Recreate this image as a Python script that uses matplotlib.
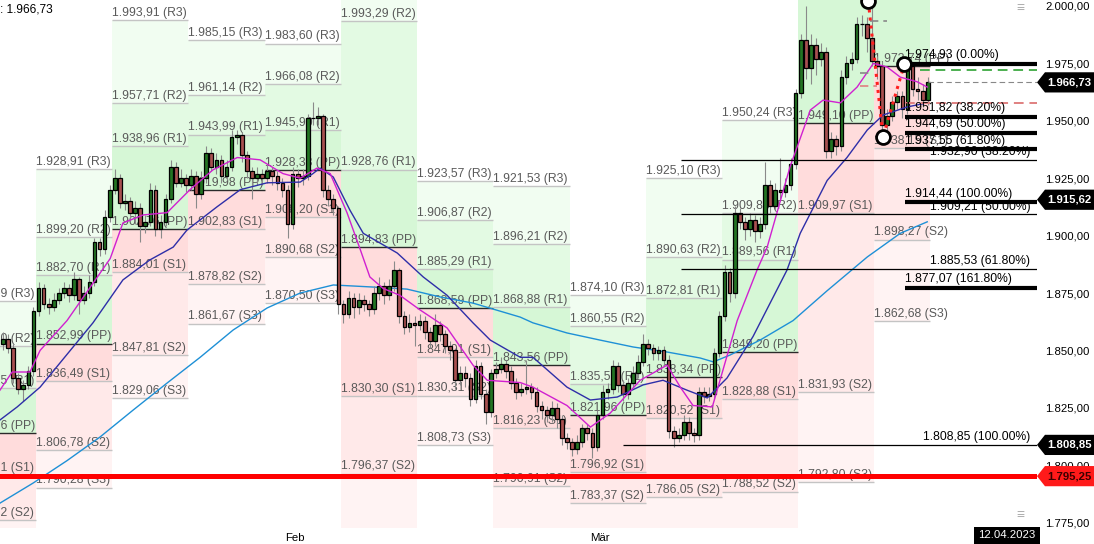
import matplotlib
matplotlib.use('Agg')
import matplotlib.pyplot as plt
import matplotlib.transforms as mtransforms
from matplotlib.patches import Polygon

plt.rcParams['font.family'] = ['Liberation Sans', 'DejaVu Sans']

# ---------------- data ----------------
first_open = 1853.0
closes = [
    1855, 1851, 1838, 1833, 1835, 1841, 1867, 1877, 1870, 1869,
    1872, 1875, 1877, 1874, 1881, 1872, 1875, 1880, 1897, 1894,
    1908, 1920, 1925, 1914, 1915, 1910, 1912, 1904, 1906, 1920,
    1903, 1906, 1916, 1930, 1923, 1925, 1922, 1926, 1918, 1925,
    1936, 1930, 1933, 1926, 1930, 1943, 1944, 1935, 1928, 1925,
    1927, 1925, 1928, 1926, 1923, 1920, 1905, 1927, 1925, 1926,
    1951, 1951, 1952, 1920, 1916, 1912, 1870, 1866, 1873, 1869,
    1872, 1870, 1868, 1875, 1878, 1874, 1878, 1885, 1865, 1860,
    1862, 1861, 1863, 1858, 1854, 1861, 1857, 1852, 1850, 1837,
    1840, 1838, 1829, 1843, 1831, 1823, 1840, 1842, 1844, 1841,
    1836, 1832, 1833, 1834, 1832, 1826, 1824, 1822, 1825, 1820,
    1812, 1810, 1807, 1810, 1816, 1814, 1808, 1822, 1832, 1833,
    1843, 1835, 1831, 1836, 1840, 1845, 1853, 1851, 1849, 1850,
    1846, 1815, 1812, 1813, 1819, 1814, 1813, 1832, 1830, 1831,
    1849, 1865, 1884, 1875, 1910, 1906, 1903, 1907, 1902, 1905,
    1922, 1913, 1920, 1919, 1922, 1931, 1962, 1985, 1973, 1983,
    1977, 1980, 1937, 1942, 1939, 1969, 1975, 1977, 1992, 1992,
    1986, 1976, 1974, 1948, 1952, 1958, 1961, 1955, 1974, 1964,
    1963, 1959, 1966.73]
highs = [
    1858, 1857, 1853, 1840, 1837, 1843, 1869, 1880, 1879, 1873,
    1875, 1877, 1880, 1879, 1884, 1882, 1878, 1883, 1899, 1899,
    1911, 1922, 1929, 1927, 1918, 1917, 1915, 1914, 1909, 1923,
    1922, 1909, 1918, 1933, 1932, 1929, 1927, 1929, 1928, 1928,
    1939, 1938, 1936, 1935, 1933, 1946, 1946, 1945, 1937, 1930,
    1930, 1929, 1931, 1930, 1928, 1925, 1922, 1930, 1929, 1929,
    1953, 1958, 1956, 1953, 1922, 1918, 1913, 1872, 1876, 1875,
    1875, 1874, 1872, 1878, 1882, 1880, 1881, 1889, 1886, 1867,
    1866, 1865, 1866, 1865, 1860, 1866, 1863, 1859, 1854, 1851,
    1843, 1843, 1840, 1846, 1845, 1833, 1842, 1845, 1847, 1846,
    1843, 1838, 1836, 1846, 1836, 1834, 1828, 1826, 1828, 1827,
    1822, 1814, 1812, 1813, 1818, 1818, 1816, 1824, 1835, 1836,
    1846, 1845, 1837, 1838, 1843, 1848, 1857, 1855, 1853, 1852,
    1852, 1848, 1817, 1816, 1822, 1821, 1816, 1834, 1834, 1834,
    1851, 1867, 1887, 1886, 1913, 1912, 1908, 1910, 1909, 1908,
    1932, 1924, 1923, 1934, 1925, 1934, 1964, 1988, 2000, 1988,
    1986, 1984, 1982, 1945, 1944, 1972, 1978, 1980, 1995, 1996,
    1995, 2002, 1978, 1976, 1955, 1961, 1963, 1963, 1976, 1975,
    1969, 1966, 1969]
lows = [
    1850, 1849, 1836, 1831, 1828, 1833, 1839, 1865, 1868, 1866,
    1867, 1870, 1873, 1871, 1872, 1866, 1870, 1873, 1878, 1891,
    1892, 1906, 1918, 1912, 1911, 1907, 1905, 1897, 1901, 1904,
    1900, 1899, 1904, 1914, 1921, 1921, 1919, 1920, 1912, 1916,
    1923, 1928, 1927, 1923, 1924, 1928, 1940, 1932, 1925, 1916,
    1922, 1922, 1923, 1922, 1920, 1917, 1899, 1903, 1921, 1922,
    1924, 1948, 1948, 1917, 1913, 1909, 1866, 1862, 1864, 1864,
    1866, 1867, 1865, 1866, 1872, 1870, 1872, 1876, 1862, 1857,
    1858, 1852, 1859, 1855, 1851, 1852, 1854, 1849, 1846, 1833,
    1835, 1834, 1826, 1827, 1829, 1818, 1821, 1838, 1840, 1838,
    1833, 1829, 1830, 1831, 1829, 1823, 1820, 1819, 1819, 1816,
    1809, 1807, 1804, 1805, 1808, 1811, 1803, 1806, 1820, 1829,
    1831, 1832, 1828, 1829, 1834, 1838, 1843, 1848, 1846, 1846,
    1843, 1812, 1808, 1810, 1811, 1811, 1810, 1811, 1827, 1828,
    1829, 1847, 1863, 1871, 1873, 1903, 1898, 1900, 1897, 1899,
    1903, 1910, 1911, 1916, 1917, 1920, 1929, 1960, 1968, 1966,
    1970, 1974, 1934, 1934, 1935, 1937, 1966, 1972, 1975, 1987,
    1980, 1974, 1968, 1945, 1944, 1950, 1955, 1951, 1953, 1961,
    1959, 1956, 1957]

# weekly pivot points: R3, R2, R1, PP, S1, S2, S3
week_starts = [-8.5, 6.5, 21.5, 36.5, 51.5, 66.5, 81.5, 96.5, 111.5, 126.5, 141.5, 156.5, 171.5]
last_week_end = 182.5
pivot_names = ['R3', 'R2', 'R1', 'PP', 'S1', 'S2', 'S3']
pivots = [
    [1871.39, 1851.80, 1833.55, 1813.96, 1795.71, 1776.12, 1757.87],
    [1928.91, 1899.20, 1882.70, 1852.99, 1836.49, 1806.78, 1790.28],
    [1993.91, 1957.71, 1938.96, 1902.76, 1884.01, 1847.81, 1829.06],
    [1985.15, 1961.14, 1943.99, 1919.98, 1902.83, 1878.82, 1861.67],
    [1983.60, 1966.08, 1945.90, 1928.38, 1908.20, 1890.68, 1870.50],
    [2027.22, 1993.29, 1928.76, 1894.83, 1830.30, 1796.37, 1731.84],
    [1923.57, 1906.87, 1885.29, 1868.59, 1847.01, 1830.31, 1808.73],
    [1921.53, 1896.21, 1868.88, 1843.56, 1816.23, 1790.91, 1763.58],
    [1874.10, 1860.55, 1835.51, 1821.96, 1796.92, 1783.37, 1758.33],
    [1925.10, 1890.63, 1872.81, 1838.34, 1820.52, 1786.05, 1768.23],
    [1950.24, 1909.88, 1889.56, 1849.20, 1828.88, 1788.52, 1768.20],
    [2144.31, 2066.27, 2027.14, 1949.10, 1909.97, 1831.93, 1792.80],
    [2089.09, 2049.21, 2013.62, 1973.74, 1938.15, 1898.27, 1862.68],
]

# moving averages (bar index, value)
ma_short_x = [-0.6, 1.8, 5.3, 7.3, 12.6, 21.1, 23.6, 27.6, 32.3, 36.8, 41.3, 46.1, 50.6, 55.1, 58.5, 61.8,
              64.4, 67.7, 70.3, 72.2, 74.8, 78.1, 82.1, 87.4, 92.5, 95.3, 101.8, 104.3, 111.0, 115.6, 119.5,
              125.4, 130.7, 133.3, 135.8, 139.6, 141.7, 144.5, 148.4, 150.4, 154.9, 158.9, 161.4, 164.8,
              168.1, 171.3, 174.0, 176.6, 179.9, 181.9]
ma_short_y = [1832.7, 1840.6, 1840.6, 1850, 1863, 1890, 1905.5, 1909, 1910, 1920, 1928.6, 1934, 1933, 1927,
              1925, 1929.4, 1927, 1910, 1894, 1882, 1877, 1874, 1867.6, 1859.8, 1843.6, 1837, 1836, 1834,
              1826, 1816.6, 1822.7, 1837, 1843.6, 1834, 1826, 1825.4, 1841.5, 1863, 1885, 1895, 1930,
              1954.7, 1959, 1957.8, 1964.7, 1975, 1973.4, 1969, 1967, 1964.7]
ma_mid_x = [-0.6, 2.8, 7.3, 17.7, 23.6, 27.0, 28.9, 33.5, 36.2, 42.1, 46.7, 52.0, 58.5, 61.0, 62.4, 65.0,
            68.3, 70.9, 77.6, 82.7, 87.4, 92.5, 95.9, 101.8, 104.3, 111.0, 115.6, 120.9, 126.0, 129.9,
            134.6, 138.6, 142.5, 147.6, 154.3, 156.9, 162.2, 166.1, 170.1, 173.2, 177.9, 181.9]
ma_mid_y = [1819.7, 1825.4, 1834, 1862, 1880.7, 1886.3, 1889.4, 1895, 1902.4, 1912.5, 1920, 1923, 1923.3,
            1927, 1929.4, 1925.5, 1911, 1901, 1892.4, 1882, 1874, 1862, 1854.5, 1847, 1847, 1834, 1828.4,
            1829.7, 1835, 1837, 1832.7, 1829.3, 1838, 1856, 1885, 1901, 1924, 1934, 1946, 1952.5, 1956,
            1957.8]
ma_long_x = [-0.6, 5.9, 12.6, 19.1, 25.6, 32.3, 38.8, 45.3, 52.0, 58.5, 65.0, 72.8, 79.5, 86.0, 92.5,
             101.8, 104.3, 111.0, 117.5, 124.0, 130.7, 137.2, 139.8, 143.1, 149.0, 155.5, 162.2, 170.1,
             176.6, 181.9]
ma_long_y = [1783.5, 1792.2, 1802, 1812.3, 1824, 1835.8, 1847, 1858.9, 1868.5, 1875, 1878.5, 1877.6,
             1876.7, 1873.3, 1870.6, 1864.5, 1862, 1857.6, 1854.5, 1851.5, 1849.3, 1846.7, 1845, 1848,
             1854.5, 1863, 1876, 1890.7, 1901, 1906]

# Fibonacci levels
fib_thick_levels = [1974.93, 1951.82, 1944.69, 1937.55, 1914.44, 1877.07]
fib_thick_pcts = ['0.00%', '38.20%', '50.00%', '61.80%', '100.00%', '161.80%']
fib_thick_start = 177.6
fib_thin_levels = [1932.90, 1909.21, 1885.53, 1808.85]
fib_thin_pcts = ['38.20%', '50.00%', '61.80%', '100.00%']
fib_thin_starts = [133.5, 133.5, 133.5, 122.0]

# swing points (zigzag)
swing_x = [170.3, 173.2, 177.4]
swing_y = [2002.0, 1943.0, 1974.7]

support_level = 1795.25
last_price = 1966.73
tag_values = [1966.73, 1915.62, 1808.85, 1795.25]
tag_colors = ['black', 'black', 'black', '#ff1a1a']
tag_text_colors = ['white', 'white', 'white', '#3a0000']

dash_levels = [1972.1, 1966.73, 1957.8]
dash_starts = [180.5, 182.0, 177.6]
dash_colors = ['#4caf50', '#888888', '#e08080']
short_dash_levels = [1993.5, 1970.8, 1965.2]
short_dash_x0 = [170.7, 168.7, 168.7]
short_dash_x1 = [174.0, 171.3, 172.0]
short_dash_colors = ['#888888', '#888888', '#e08080']

month_pos = [57.5, 117.5]
month_labels = ['Feb', 'Mär']
price_ticks = [1775, 1800, 1825, 1850, 1875, 1900, 1925, 1950, 1975, 2000]
date_label = '12.04.2023'


def de(v, nd=2):
    s = f"{v:,.{nd}f}"
    return s.replace(',', 'X').replace('.', ',').replace('X', '.')


# ---------------- figure ----------------
W, H = 1094, 544
fig = plt.figure(figsize=(W / 100, H / 100), dpi=100)
ax = fig.add_axes([0, 17 / H, 1037 / W, 527 / H])
ax.set_xlim(-0.59, 203.5)
ax.set_ylim(1773.1, 2002.6)
for s in ax.spines.values():
    s.set_visible(False)

green_cols = ['#f1fdf1', '#e3fae3', '#d6f7d6']  # R2-R3, R1-R2, PP-R1
red_cols = ['#ffdcdc', '#ffe9e9', '#fff3f3']    # PP-S1, S1-S2, S2-S3

ends = week_starts[1:] + [last_week_end]
for x0, x1, lv in zip(week_starts, ends, pivots):
    r3, r2, r1, pp, s1, s2, s3 = lv
    ax.fill_between([x0, x1], r2, r3, color=green_cols[0], lw=0, zorder=0)
    ax.fill_between([x0, x1], r1, r2, color=green_cols[1], lw=0, zorder=0)
    ax.fill_between([x0, x1], pp, r1, color=green_cols[2], lw=0, zorder=0)
    ax.fill_between([x0, x1], s1, pp, color=red_cols[0], lw=0, zorder=0)
    ax.fill_between([x0, x1], s2, s1, color=red_cols[1], lw=0, zorder=0)
    ax.fill_between([x0, x1], s3, s2, color=red_cols[2], lw=0, zorder=0)
    for name, v in zip(pivot_names, lv):
        if not (1773 < v < 2002):
            continue
        col = '#2a2a2a' if name == 'PP' else '#c4c4c4'
        ax.hlines(v, x0, x1, color=col, lw=1.0, zorder=1)
        ax.text(x0, v + 0.5, f"{de(v)} ({name})", ha='left', va='bottom', fontsize=8.8,
                color='#5a5a5a', zorder=1.5, clip_on=True)

# moving averages
ax.plot(ma_long_x, ma_long_y, color='#1e90d6', lw=1.0, zorder=2)
ax.plot(ma_mid_x, ma_mid_y, color='#2e2ea8', lw=1.0, zorder=3.5)
ax.plot(ma_short_x, ma_short_y, color='#d020d0', lw=1.0, zorder=3.6)

# candles
opens = [first_open] + closes[:-1]
xs = list(range(len(closes)))
ax.vlines(xs, lows, highs, color='#8a8a8a', lw=0.8, zorder=2.8)
for x, o, c in zip(xs, opens, closes):
    up = c >= o
    ax.bar(x, c - o if c != o else 0.3, bottom=o, width=0.72,
           color='#237423' if up else '#a85050', edgecolor='black', lw=0.9, zorder=3)

# fibonacci lines
for v, p in zip(fib_thick_levels, fib_thick_pcts):
    ax.hlines(v, fib_thick_start, 203.5, color='black', lw=3.0, zorder=5)
    ax.text(fib_thick_start, v + 1.2, f"{de(v)} ({p})", ha='left', va='bottom', fontsize=8.7,
            color='black', zorder=5)
for v, p, x0 in zip(fib_thin_levels, fib_thin_pcts, fib_thin_starts):
    ax.hlines(v, x0, 203.5, color='black', lw=0.9, zorder=4)
    ax.text(202.2, v + 0.8, f"{de(v)} ({p})", ha='right', va='bottom', fontsize=8.7,
            color='black', zorder=5)

# dashed helper lines
for v, x0, c in zip(dash_levels, dash_starts, dash_colors):
    ax.hlines(v, x0, 203.5, color=c, lw=1.4 if c != '#888888' else 0.8,
              linestyles=(0, (5, 3)), zorder=4)
for v, x0, x1, c in zip(short_dash_levels, short_dash_x0, short_dash_x1, short_dash_colors):
    ax.hlines(v, x0, x1, color=c, lw=1.2, linestyles=(0, (5, 3)), zorder=4)

# zigzag
ax.plot(swing_x, swing_y, color='#ff2020', lw=2.2, ls=':', zorder=6)
ax.plot(swing_x, swing_y, ls='none', marker='o', ms=10, mfc='white', mec='black', mew=2, zorder=7)

# support line
ax.axhline(support_level, color='#ff0000', lw=3.6, zorder=6)

# axes ticks
ax.yaxis.tick_right()
ax.set_yticks(price_ticks)
ax.set_yticklabels([de(v) for v in price_ticks])
ax.tick_params(axis='y', length=0, pad=6, labelsize=8.2, colors='black')
ax.set_xticks(month_pos)
ax.set_xticklabels(month_labels)
ax.tick_params(axis='x', length=0, pad=4, labelsize=8.2)

# price tags on right
trans = mtransforms.blended_transform_factory(ax.transAxes, ax.transData)
hh = 4.4
for v, fc, tc in zip(tag_values, tag_colors, tag_text_colors):
    poly = Polygon([(1.0, v), (1.0077, v + hh), (1.056, v + hh), (1.056, v - hh), (1.0077, v - hh)],
                   closed=True, transform=trans, facecolor=fc, edgecolor='none', clip_on=False, zorder=10)
    ax.add_patch(poly)
    ax.text(1.0315, v, de(v), transform=trans, ha='center', va='center', fontsize=8.2,
            fontweight='bold', color=tc, clip_on=False, zorder=11)

# header text and decorations
fig.text(0.0, 1 - 4 / H, f": {de(last_price)}", ha='left', va='top', fontsize=8.6, color='black')
fig.text(1020 / W, 1 - 1 / H, '≡', ha='center', va='top', fontsize=10, color='#b0b0b0')
fig.text(1020 / W, 1 - 508 / H, '≡', ha='center', va='top', fontsize=10, color='#b0b0b0')
fig.text(1007 / W, 8.5 / H, date_label, ha='center', va='center', fontsize=8.2, color='white',
         bbox=dict(boxstyle='square,pad=0.35', fc='black', ec='none'))

fig.savefig('out.png', dpi=100)
